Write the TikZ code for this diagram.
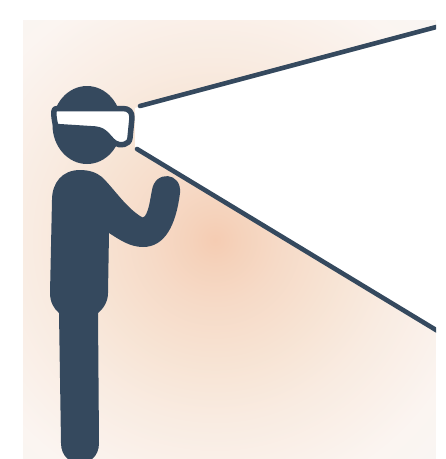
\documentclass[tikz,border=0pt]{standalone}
\usepackage{xcolor}
\usetikzlibrary{calc}
\definecolor{figblue}{HTML}{35495E}
\definecolor{beamwhite}{HTML}{FFFFFF}
\pgfdeclareradialshading{glowshade}{\pgfpointorigin}{%
  rgb(0bp)=(0.961,0.800,0.700);
  rgb(2bp)=(0.961,0.825,0.735);
  rgb(5bp)=(0.965,0.855,0.780);
  rgb(10bp)=(0.970,0.895,0.835);
  rgb(14bp)=(0.976,0.922,0.882);
  rgb(21bp)=(0.984,0.960,0.945);
  rgb(25bp)=(0.975,0.960,0.950);
  rgb(50bp)=(0.975,0.960,0.950)}
\tikzset{
  figure/.style={fill=figblue,draw=none},
  beamline/.style={draw=figblue,line width=4.6pt,line cap=round},
  goggle/.style={draw=figblue,fill=beamwhite,line width=5.5pt,line join=round}
}
\begin{document}
\begin{tikzpicture}[x=1pt,y=-1pt]
  \useasboundingbox (0,0) rectangle (446,459);
  % background glow
  \begin{scope}
    \clip (23,20) rectangle (436,459);
    \shade[shading=glowshade] (215,240) circle[radius=320];
  \end{scope}
  % field of view
  \coordinate (eyetop) at (140,106);
  \coordinate (eyebot) at (137,149);
  \coordinate (fartop) at (436,27);
  \coordinate (farbot) at (436,330);
  \fill[beamwhite] (135,108) -- (fartop) -- (farbot) -- (135,147) -- cycle;
  \fill[beamwhite] (436,0) rectangle (446,459);
  \begin{scope}
    \clip (0,0) rectangle (436,459);
    \draw[beamline] (eyetop) -- ($(fartop)+(4,-1)$);
    \draw[beamline] (eyebot) -- ($(farbot)+(4,2.4)$);
  \end{scope}
  % head
  \fill[figure] (87,125) ellipse[x radius=34.5,y radius=39];
  % goggles
  \draw[goggle] (57,108.5) -- (123,108.5) .. controls (129,108.5) and (132.3,112) .. (132,118)
    -- (130,138) .. controls (129.5,145) and (120,146.5) .. (115,143)
    .. controls (108,138) and (106,130) .. (95,129)
    -- (56,126.5) .. controls (54,120) and (53.5,114) .. (54,111)
    .. controls (54,109.5) and (55,108.5) .. (57,108.5) -- cycle;
  % body
  \begin{scope}
    \clip (0,0) rectangle (446,459);
    \fill[figure] (80,170) .. controls (62,170) and (52,183) .. (52,200)
      -- (50,293) .. controls (50,302) and (54,309) .. (59,313)
      -- (61,443) .. controls (61,470) and (99,470) .. (99,443)
      -- (98,313) .. controls (103,309) and (108,302) .. (108,293)
      -- (109,233) .. controls (120,240) and (130,247) .. (143,247)
      .. controls (165,247) and (176,225) .. (180,193)
      .. controls (182,172) and (155,170) .. (152,190)
      .. controls (150,200) and (149,210) .. (145,216)
      .. controls (144,218) and (142,218) .. (140,216)
      .. controls (125,206) and (115,190) .. (102,177)
      .. controls (96,172) and (88,170) .. (80,170) -- cycle;
  \end{scope}
\end{tikzpicture}
\end{document}
